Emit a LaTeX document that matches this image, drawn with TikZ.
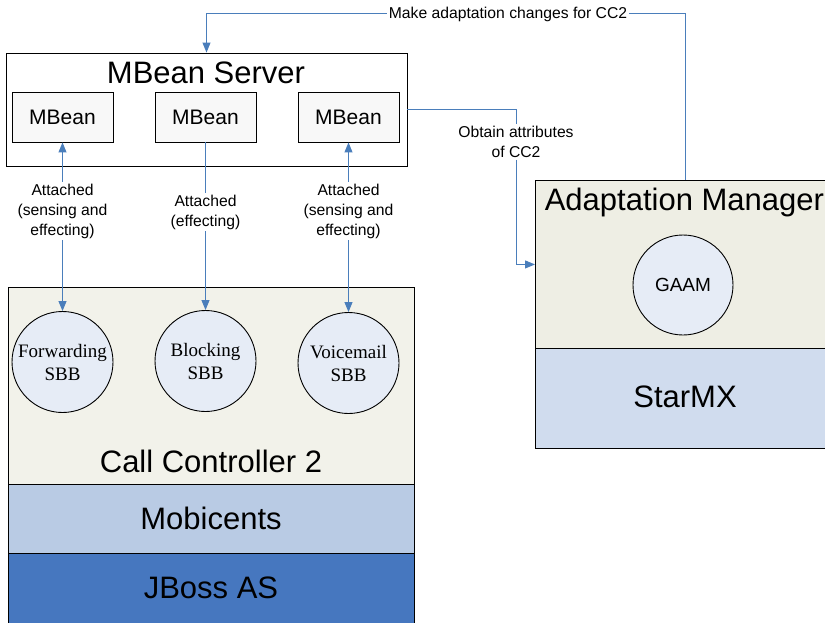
\documentclass[tikz,border=0pt]{standalone}
\usepackage{fontspec}
\setmainfont{Liberation Sans}
\newfontfamily\sbbfont{Liberation Serif}
\usetikzlibrary{arrows.meta}
\definecolor{linkblue}{HTML}{4A7EBB}
\definecolor{beangray}{HTML}{F8F8F8}
\definecolor{ccbeige}{HTML}{F2F2EA}
\definecolor{ambeige}{HTML}{EEEEE4}
\definecolor{sbbblue}{HTML}{E6ECF6}
\definecolor{mobiblue}{HTML}{B9CBE4}
\definecolor{jbossblue}{HTML}{4677BF}
\definecolor{starblue}{HTML}{D0DCEE}
\tikzset{
  big/.style={font=\fontsize{31}{36}\selectfont},
  layer/.style={draw, minimum width=406pt, inner sep=0pt},
  bean/.style={draw, fill=beangray, minimum width=101pt, minimum height=50pt,
    inner sep=0pt, font=\fontsize{21}{24}\selectfont},
  sbb/.style={circle, draw, fill=sbbblue, minimum size=101pt, inner sep=0pt,
    align=center, font=\sbbfont\fontsize{19}{23}\selectfont},
  link/.style={draw=linkblue, line width=1pt},
  onearrow/.style={-{Triangle[length=10pt,width=8pt]}},
  twoarrow/.style={{Triangle[length=10pt,width=8pt]}-{Triangle[length=10pt,width=8pt]}},
  link label/.style={fill=white, align=center, inner sep=1.5pt,
    font=\fontsize{15.7}{20}\selectfont},
}

\begin{document}
\begin{tikzpicture}[x=1pt, y=-1pt, line width=0.9pt]
  \useasboundingbox (0,0) rectangle (825,623);
  \clip (0,0) rectangle (825,623);

  % MBean server with its three beans
  \node[draw, fill=white, minimum width=401pt, minimum height=113pt, inner sep=0pt]
    (server) at (206.5,109.5) {};
  \node[big, anchor=base] (servertitle) at (206,84) {MBean Server};
  \node[bean] (bean1) at ( 62.5,117) {MBean};
  \node[bean] (bean2) at (205.5,117) {MBean};
  \node[bean] (bean3) at (348.5,117) {MBean};

  % call controller stack
  \node[layer, fill=ccbeige, minimum height=197pt] (cc) at (211,385.5) {};
  \node[big, anchor=base] (cctitle) at (211,472) {Call Controller 2};
  \node[layer, fill=mobiblue, minimum height=69pt, big] (mobi) at (211,518.5) {Mobicents};
  \node[layer, fill=jbossblue, minimum height=80pt] (jboss) at (211,593) {};
  \node[big] (jbosstitle) at (211,588) {JBoss AS};
  \node[sbb] (fwd)   at ( 62.5,362) {Forwarding\\SBB};
  \node[sbb] (block) at (205.5,361) {Blocking\\SBB};
  \node[sbb] (vmail) at (348.5,363) {Voicemail\\SBB};

  % adaptation manager on StarMX
  \node[draw, fill=ambeige, minimum width=300pt, minimum height=168pt, inner sep=0pt,
    anchor=north west] (am) at (535,180) {};
  \node[big, anchor=base west] (amtitle) at (541,210) {Adaptation Manager};
  \node[circle, draw, fill=sbbblue, minimum size=100pt, inner sep=0pt,
    font=\fontsize{19}{23}\selectfont] (gaam) at (683,285) {GAAM};
  \node[draw, fill=starblue, minimum width=300pt, minimum height=100pt, inner sep=0pt,
    anchor=north west] (star) at (535,348) {};
  \node[big] (startitle) at (685,397) {StarMX};

  % attachments
  \draw[link, twoarrow] (bean1.south) -- (fwd.north);
  \draw[link, onearrow] (bean2.south) -- (block.north);
  \draw[link, twoarrow] (bean3.south) -- (vmail.north);
  \node[link label] (att1) at ( 62.5,211) {Attached\\(sensing and\\effecting)};
  \node[link label] (att2) at (205.5,212) {Attached\\(effecting)};
  \node[link label] (att3) at (348.5,211) {Attached\\(sensing and\\effecting)};

  % manager loop
  \node[link label] (makelbl) at (508,14) {Make adaptation changes for CC2};
  \draw[link] (am.north) |- (makelbl.east);
  \draw[link, onearrow] (makelbl.west) -| (server.north);
  \node[link label] (obtainlbl) at (516,142) {Obtain attributes\\of CC2};
  \draw[link] (server.east) -| (obtainlbl.north);
  \draw[link, onearrow] (obtainlbl.south) |- (am.west);
\end{tikzpicture}
\end{document}
